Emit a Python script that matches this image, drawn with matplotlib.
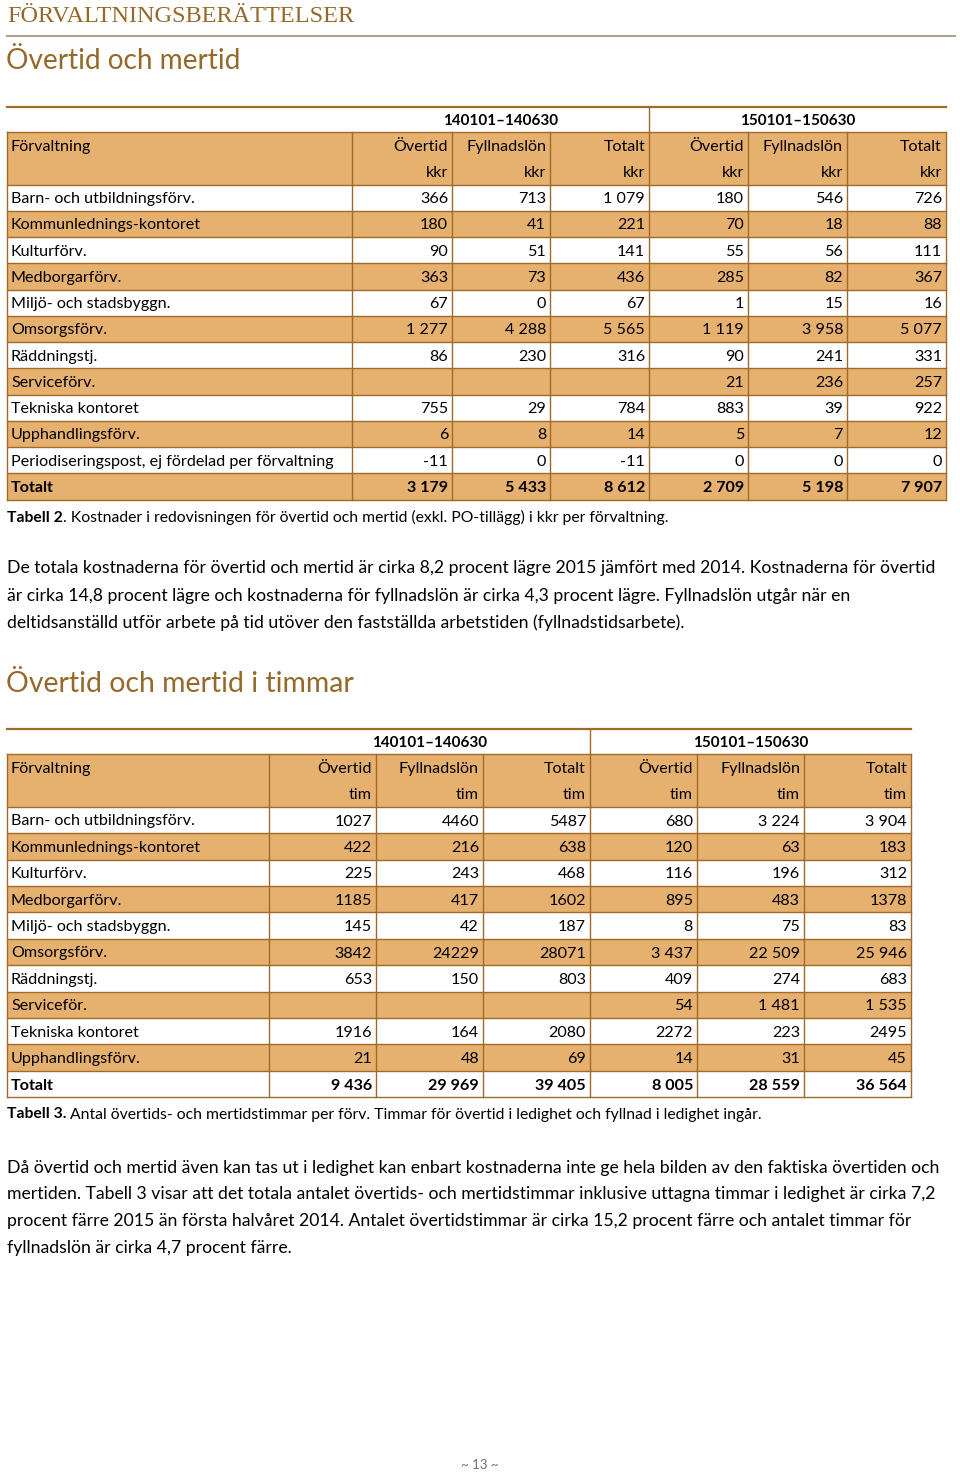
import matplotlib
matplotlib.use("Agg")
import matplotlib.pyplot as plt

# =========================
# DATA
# =========================

perioder = ["140101–140630", "150101–150630"]
kolumner = ["Övertid", "Fyllnadslön", "Totalt"]

namn_kkr = [
    "Barn- och utbildningsförv.",
    "Kommunlednings-kontoret",
    "Kulturförv.",
    "Medborgarförv.",
    "Miljö- och stadsbyggn.",
    "Omsorgsförv.",
    "Räddningstj.",
    "Serviceförv.",
    "Tekniska kontoret",
    "Upphandlingsförv.",
    "Periodiseringspost, ej fördelad per förvaltning",
    "Totalt",
]
overtid_kkr_14 = ["366", "180", "90", "363", "67", "1 277", "86", "", "755", "6", "-11", "3 179"]
fyllnad_kkr_14 = ["713", "41", "51", "73", "0", "4 288", "230", "", "29", "8", "0", "5 433"]
totalt_kkr_14 = ["1 079", "221", "141", "436", "67", "5 565", "316", "", "784", "14", "-11", "8 612"]
overtid_kkr_15 = ["180", "70", "55", "285", "1", "1 119", "90", "21", "883", "5", "0", "2 709"]
fyllnad_kkr_15 = ["546", "18", "56", "82", "15", "3 958", "241", "236", "39", "7", "0", "5 198"]
totalt_kkr_15 = ["726", "88", "111", "367", "16", "5 077", "331", "257", "922", "12", "0", "7 907"]

namn_tim = [
    "Barn- och utbildningsförv.",
    "Kommunlednings-kontoret",
    "Kulturförv.",
    "Medborgarförv.",
    "Miljö- och stadsbyggn.",
    "Omsorgsförv.",
    "Räddningstj.",
    "Serviceför.",
    "Tekniska kontoret",
    "Upphandlingsförv.",
    "Totalt",
]
overtid_tim_14 = ["1027", "422", "225", "1185", "145", "3842", "653", "", "1916", "21", "9 436"]
fyllnad_tim_14 = ["4460", "216", "243", "417", "42", "24229", "150", "", "164", "48", "29 969"]
totalt_tim_14 = ["5487", "638", "468", "1602", "187", "28071", "803", "", "2080", "69", "39 405"]
overtid_tim_15 = ["680", "120", "116", "895", "8", "3 437", "409", "54", "2272", "14", "8 005"]
fyllnad_tim_15 = ["3 224", "63", "196", "483", "75", "22 509", "274", "1 481", "223", "31", "28 559"]
totalt_tim_15 = ["3 904", "183", "312", "1378", "83", "25 946", "683", "1 535", "2495", "45", "36 564"]

text_1 = [
    "De totala kostnaderna för övertid och mertid är cirka 8,2 procent lägre 2015 jämfört med 2014. Kostnaderna för övertid",
    "är cirka 14,8 procent lägre och kostnaderna för fyllnadslön är cirka 4,3 procent lägre. Fyllnadslön utgår när en",
    "deltidsanställd utför arbete på tid utöver den fastställda arbetstiden (fyllnadstidsarbete).",
]
text_2 = [
    "Då övertid och mertid även kan tas ut i ledighet kan enbart kostnaderna inte ge hela bilden av den faktiska övertiden och",
    "mertiden. Tabell 3 visar att det totala antalet övertids- och mertidstimmar inklusive uttagna timmar i ledighet är cirka 7,2",
    "procent färre 2015 än första halvåret 2014. Antalet övertidstimmar är cirka 15,2 procent färre och antalet timmar för",
    "fyllnadslön är cirka 4,7 procent färre.",
]

# =========================
# STIL
# =========================

ORANGE = "#E6B06E"
BRUN = "#A06A2A"
RUBRIK = "#94692A"
FONT = ["Lato", "DejaVu Sans"]
TS = 11.6   # tabelltext
DY = 1.5    # vertikal justering av text

plt.rcParams["font.family"] = FONT

fig = plt.figure(figsize=(9.6, 14.73), dpi=100)
ax = fig.add_axes([0, 0, 1, 1])
ax.set_xlim(0, 960)
ax.set_ylim(1473, 0)
ax.axis("off")


def rita_tabell(topp, kanter, rad_h, namn, kolumndata, enhet):

    x0 = kanter[0]
    x1 = kanter[-1]
    mitt = kanter[4]

    # periodrad
    ax.plot([x0, x1], [topp, topp], color=BRUN, lw=1.6)
    ax.plot([mitt, mitt], [topp, topp + 25], color=BRUN, lw=1)
    ax.text((kanter[1] + mitt) / 2, topp + 12.5 + DY, perioder[0],
            ha="center", va="center", fontsize=11, fontweight="bold")
    ax.text((mitt + x1) / 2, topp + 12.5 + DY, perioder[1],
            ha="center", va="center", fontsize=11, fontweight="bold")

    # rubrikrader
    h_topp = topp + 25
    h_bott = h_topp + 2 * rad_h
    ax.fill_between([x0, x1], h_topp, h_bott, color=ORANGE, lw=0)
    ax.text(x0 + 4, h_topp + rad_h / 2 + DY, "Förvaltning",
            ha="left", va="center", fontsize=TS)
    for j in range(6):
        ax.text(kanter[j + 2] - 4, h_topp + rad_h / 2 + DY, kolumner[j % 3],
                ha="right", va="center", fontsize=TS)
        ax.text(kanter[j + 2] - 4, h_topp + rad_h * 1.5 + DY, enhet,
                ha="right", va="center", fontsize=TS)

    # datarader
    for i in range(len(namn)):
        y = h_bott + i * rad_h
        if i % 2 == 1:
            ax.fill_between([x0, x1], y, y + rad_h, color=ORANGE, lw=0)
        vikt = "bold" if namn[i] == "Totalt" else "normal"
        ax.text(x0 + 4, y + rad_h / 2 + DY, namn[i],
                ha="left", va="center", fontsize=TS, fontweight=vikt)
        for j in range(6):
            ax.text(kanter[j + 2] - 4, y + rad_h / 2 + DY, kolumndata[j][i],
                    ha="right", va="center", fontsize=TS, fontweight=vikt)

    botten = h_bott + len(namn) * rad_h

    # linjer
    ax.plot([x0, x1], [h_topp, h_topp], color=BRUN, lw=1)
    for i in range(len(namn) + 1):
        y = h_bott + i * rad_h
        ax.plot([x0, x1], [y, y], color=BRUN, lw=1)
    for x in kanter:
        ax.plot([x, x], [h_topp, botten], color=BRUN, lw=1)

    return botten


def bildtext(y, fet, resten):

    t = ax.text(7, y + DY, fet, ha="left", va="center", fontsize=11.3, fontweight="bold")
    fig.canvas.draw()
    bb = t.get_window_extent()
    ax.text(7 + bb.width, y + DY, resten, ha="left", va="center", fontsize=11.3)


# =========================
# SIDHUVUD
# =========================

ax.text(7, 17, "FÖRVALTNINGSBERÄTTELSER", ha="left", va="center",
        fontsize=17.5, color=RUBRIK, family=["Liberation Serif", "DejaVu Serif"])
ax.plot([7, 955], [36, 36], color="#AFA290", lw=1.5)

ax.text(6, 61, "Övertid och mertid", ha="left", va="center",
        fontsize=20.2, color=RUBRIK)

# =========================
# TABELL 2
# =========================

kanter_1 = [7, 352, 452, 550, 649, 748, 847, 946]
rita_tabell(107, kanter_1, 26.25, namn_kkr,
            [overtid_kkr_14, fyllnad_kkr_14, totalt_kkr_14,
             overtid_kkr_15, fyllnad_kkr_15, totalt_kkr_15], "kkr")

bildtext(516, "Tabell 2",
         ". Kostnader i redovisningen för övertid och mertid (exkl. PO-tillägg) i kkr per förvaltning.")

for k, rad in enumerate(text_1):
    ax.text(7, 567 + DY + k * 27, rad, ha="left", va="center", fontsize=12.7)

# =========================
# TABELL 3
# =========================

ax.text(6, 684, "Övertid och mertid i timmar", ha="left", va="center",
        fontsize=20.4, color=RUBRIK)

kanter_2 = [7, 269, 376, 483, 590, 697, 804, 911]
rita_tabell(729, kanter_2, 26.4, namn_tim,
            [overtid_tim_14, fyllnad_tim_14, totalt_tim_14,
             overtid_tim_15, fyllnad_tim_15, totalt_tim_15], "tim")

bildtext(1113, "Tabell 3.",
         " Antal övertids- och mertidstimmar per förv. Timmar för övertid i ledighet och fyllnad i ledighet ingår.")

for k, rad in enumerate(text_2):
    ax.text(7, 1166 + DY + k * 26.7, rad, ha="left", va="center", fontsize=12.7)

ax.text(480, 1465, "~ 13 ~", ha="center", va="center", fontsize=9.5, color="#707070")

fig.savefig("out.png", dpi=100)
